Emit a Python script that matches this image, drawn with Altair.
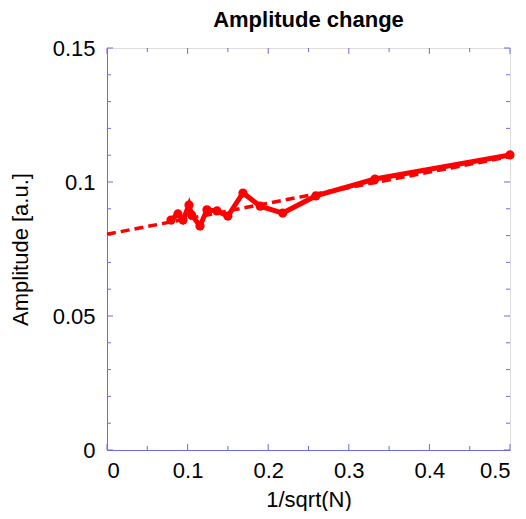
import altair as alt
import pandas as pd

# measured data
inv_sqrt_n = [0.0794, 0.088, 0.0943, 0.1017, 0.105, 0.1154, 0.124, 0.1365, 0.150,
              0.1687, 0.190, 0.218, 0.259, 0.3325, 0.5]
amplitude = [0.0858, 0.0881, 0.0858, 0.0914, 0.0877, 0.0836, 0.0896, 0.0892, 0.0873,
             0.0959, 0.0910, 0.0884, 0.0948, 0.1011, 0.1101]

fit_x = [0.0, 0.5]
fit_y = [0.0805, 0.1095]

x_major = [0.0, 0.1, 0.2, 0.3, 0.4, 0.5]
x_minor = [0.05, 0.15, 0.25, 0.35, 0.45]
y_major = [0.0, 0.05, 0.1, 0.15]
y_minor = [0.01, 0.02, 0.03, 0.04, 0.06, 0.07, 0.08, 0.09, 0.11, 0.12, 0.13, 0.14]

W, H = 403, 402
BLUE = "#6b6be6"
RED = "#ff0000"
FONT = "Liberation Sans"
FS = 22

xs = alt.Scale(domain=[0, 0.5], nice=False, zero=False)
ys = alt.Scale(domain=[0, 0.15], nice=False, zero=False)

df = pd.DataFrame({"x": inv_sqrt_n, "y": amplitude})
fit = pd.DataFrame({"x": fit_x, "y": fit_y})

x_axis = alt.Axis(values=x_major, format="~g", ticks=False, grid=False,
                  domainColor=BLUE, labelFontSize=FS, labelFont=FONT,
                  labelColor="black", labelPadding=10, title="1/sqrt(N)",
                  titleFontSize=FS, titleFont=FONT, titleFontWeight="normal",
                  titleColor="black", titlePadding=8)
y_axis = alt.Axis(values=y_major, format="~g", ticks=False, grid=False,
                  domainColor=BLUE, labelFontSize=FS, labelFont=FONT,
                  labelColor="black", labelPadding=12, title="Amplitude [a.u.]",
                  titleFontSize=FS, titleFont=FONT, titleFontWeight="normal",
                  titleColor="black", titlePadding=20)

fit_line = alt.Chart(fit).mark_line(color=RED, strokeWidth=3.5, strokeDash=[9, 5]).encode(
    x=alt.X("x:Q", scale=xs, axis=x_axis),
    y=alt.Y("y:Q", scale=ys, axis=y_axis),
)

data_line = alt.Chart(df).mark_line(color=RED, strokeWidth=5).encode(
    x=alt.X("x:Q", scale=xs), y=alt.Y("y:Q", scale=ys), order="x:Q"
)
data_pts = alt.Chart(df).mark_circle(color=RED, size=85, opacity=1).encode(
    x=alt.X("x:Q", scale=xs), y=alt.Y("y:Q", scale=ys)
)

def xticks(vals, length):
    d = pd.DataFrame({"t": vals})
    bot = alt.Chart(d).mark_rule(color=BLUE, strokeWidth=1).encode(
        x=alt.X("t:Q", scale=xs), y=alt.value(H), y2=alt.value(H - length))
    top = alt.Chart(d).mark_rule(color=BLUE, strokeWidth=1).encode(
        x=alt.X("t:Q", scale=xs), y=alt.value(0), y2=alt.value(length))
    return [bot, top]

def yticks(vals, length):
    d = pd.DataFrame({"t": vals})
    left = alt.Chart(d).mark_rule(color=BLUE, strokeWidth=1).encode(
        y=alt.Y("t:Q", scale=ys), x=alt.value(0), x2=alt.value(length))
    right = alt.Chart(d).mark_rule(color=BLUE, strokeWidth=1).encode(
        y=alt.Y("t:Q", scale=ys), x=alt.value(W), x2=alt.value(W - length))
    return [left, right]

layers = [fit_line] + xticks(x_major, 6) + xticks(x_minor, 4) + yticks(y_major, 6) + yticks(y_minor, 4) + [data_line, data_pts]

chart = alt.layer(*layers).properties(
    width=W, height=H,
    title=alt.TitleParams("Amplitude change", fontSize=FS, font=FONT, fontWeight="bold",
                          color="black", anchor="middle", offset=5),
    autosize=alt.AutoSizeParams(type="none"),
    padding={"left": 99, "top": 40, "right": 8, "bottom": 61},
).configure_view(stroke=BLUE, strokeWidth=1).configure(background="white")

chart.save("out.html", embed_options={"renderer": "svg", "actions": False})
